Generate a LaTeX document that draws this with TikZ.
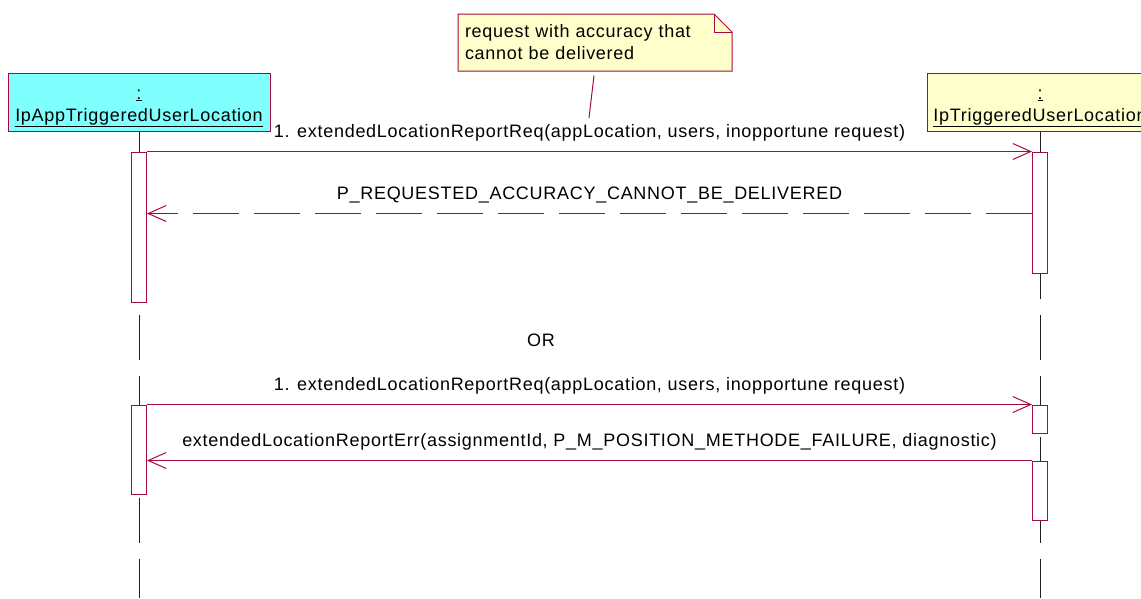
\documentclass[tikz,border=0pt]{standalone}
\usepackage{fontspec}
\setmainfont{Liberation Sans}[LetterSpace=4]
\usepackage{tikz}
\usetikzlibrary{positioning}
\usetikzlibrary{arrows.meta}
\usetikzlibrary{calc}
\definecolor{umlred}{RGB}{165,10,60}
\definecolor{objcyan}{RGB}{128,255,255}
\definecolor{noteyellow}{RGB}{255,255,204}
\definecolor{lifegray}{RGB}{30,30,30}
\tikzset{
    sequence diagram/.style={
            x=1pt,y=-1pt,line width=1pt,
            font=\fontsize{18}{22}\selectfont,
            object/.style={draw=umlred,minimum height=58pt,align=center,inner sep=0pt},
            activation/.style={draw=umlred,fill=white,minimum width=15pt,inner sep=0pt},
            lifeline/.style={draw=lifegray,dash pattern=on 45pt off 16pt},
            message/.style={draw=umlred,-{Straight Barb[length=18pt,width=16pt]}},
            reply/.style={message,dash pattern=on 46pt off 15pt},
            msgtext/.style={midway,anchor=base,yshift=14pt}
        }
    }

\begin{document}
\begin{tikzpicture}[sequence diagram]
    \useasboundingbox (0,0) rectangle (1141,598);

    \node [object,fill=objcyan,minimum width=262pt] (app) at (139,102) {\rule{0pt}{22pt}\underline{:}\\\underline{IpAppTriggeredUserLocation}};
    \node [object,fill=noteyellow,minimum width=226pt] (svc) at (1040,102) {\rule{0pt}{22pt}\underline{:}\\\underline{IpTriggeredUserLocation}};

    \coordinate (append) at (139,598);
    \coordinate (svcend) at (1040,598);
    \draw [lifeline] (app.south) -- (append);
    \draw [lifeline] (svc.south) -- (svcend);

    \node [activation,minimum height=150pt] (appact1) at (139,227) {};
    \node [activation,minimum height=121pt] (svcact1) at (1040,212.5) {};
    \node [activation,minimum height=89pt] (appact2) at (139,449.5) {};
    \node [activation,minimum height=28pt] (svcact2) at (1040,419) {};
    \node [activation,minimum height=59pt] (svcact3) at (1040,490.5) {};

    % note
    \coordinate (notenw) at (458,14);
    \coordinate (notese) at (732,71);
    \draw [umlred,fill=noteyellow] (notenw) -- ($(notese|-notenw)+(-18,0)$) -- ($(notese|-notenw)+(0,18)$) -- (notese) -- (notenw|-notese) -- cycle;
    \draw [umlred] ($(notese|-notenw)+(-18,0)$) |- ($(notese|-notenw)+(0,18)$);
    \node [text width=260pt,align=left,inner sep=7pt,minimum height=57pt] (note) at ($(notenw)!0.5!(notese)$) {request with accuracy that\\cannot be delivered};
    \coordinate (noteanchor) at (589,118);
    \draw [umlred] ($(note.south)+(-1,4)$) -- (noteanchor);

    \draw [message] (appact1.north east) -- (svcact1.north west) node [msgtext] {1. extendedLocationReportReq(appLocation, users, inopportune request)};
    \draw [reply] ($(svcact1.north west)+(0,62)$) -- ($(appact1.north east)+(0,62)$) node [msgtext] {P\_REQUESTED\_ACCURACY\_CANNOT\_BE\_DELIVERED};

    \node [] (alt) at (541,340) {OR};

    \draw [message] (appact2.north east) -- (svcact2.north west) node [msgtext] {1. extendedLocationReportReq(appLocation, users, inopportune request)};
    \draw [message] (svcact3.north west) -- ($(appact2.north east)+(0,56)$) node [msgtext] {extendedLocationReportErr(assignmentId, P\_M\_POSITION\_METHODE\_FAILURE, diagnostic)};
\end{tikzpicture}
\end{document}
